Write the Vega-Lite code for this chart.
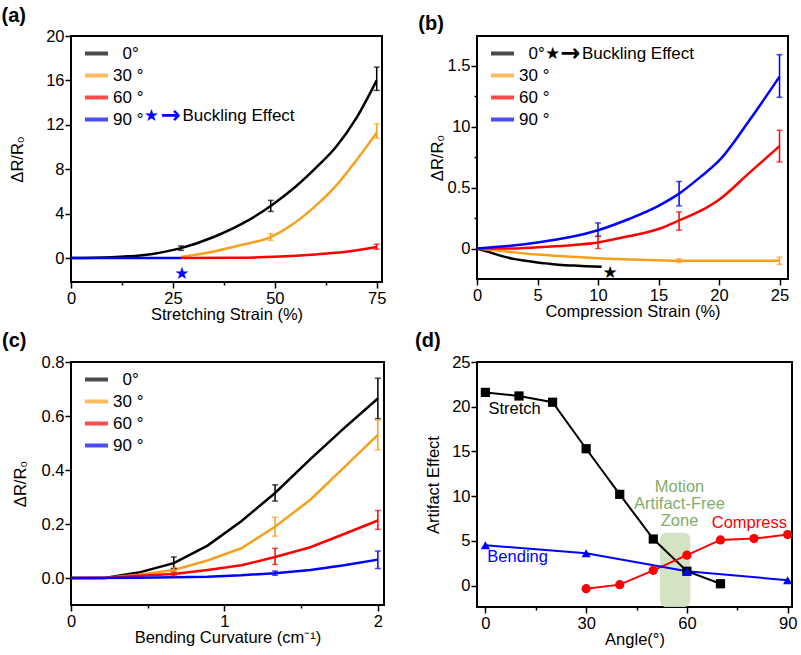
{
  "$schema": "https://vega.github.io/schema/vega-lite/v6.json",
  "padding": {"left": 0, "top": 5, "right": 0, "bottom": 0},
  "background": "white",
  "columns": 2,
  "bounds": "flush",
  "spacing": {"row": 80, "column": 93},
  "resolve": {"scale": {"color": "independent"}, "legend": {"color": "independent"}},
  "config": {
    "font": "Liberation Sans",
    "view": {"stroke": "black", "strokeWidth": 2},
    "axis": {"domain": false, "grid": false, "tickColor": "black", "tickWidth": 1.5, "labelColor": "#000", "labelFontSize": 16.5, "labelFont": "Liberation Sans", "titleFont": "Liberation Sans", "titleFontSize": 16.5, "titleFontWeight": "normal", "titleColor": "#000", "labelFlush": false, "labelOverlap": false, "labelPadding": 1},
    "axisX": {"titlePadding": 0, "labelPadding": 2},
    "title": {"fontSize": 20, "fontWeight": "bold", "anchor": "start", "frame": "group", "color": "#000", "baseline": "alphabetic", "font": "Liberation Sans"},
    "legend": {"padding": 0}
  },
  "datasets": {
    "aL": [
      {"s": "0°", "x": 0, "y": 0}, {"s": "0°", "x": 10, "y": 0.08}, {"s": "0°", "x": 20, "y": 0.38}, {"s": "0°", "x": 27, "y": 0.9}, {"s": "0°", "x": 35, "y": 1.9}, {"s": "0°", "x": 42, "y": 3.1}, {"s": "0°", "x": 49, "y": 4.7}, {"s": "0°", "x": 55, "y": 6.4}, {"s": "0°", "x": 60, "y": 8.1}, {"s": "0°", "x": 65, "y": 10.0}, {"s": "0°", "x": 70, "y": 12.6}, {"s": "0°", "x": 75, "y": 16.0},
      {"s": "30 °", "x": 27, "y": 0.1}, {"s": "30 °", "x": 35, "y": 0.6}, {"s": "30 °", "x": 42, "y": 1.2}, {"s": "30 °", "x": 49, "y": 1.9}, {"s": "30 °", "x": 55, "y": 3.2}, {"s": "30 °", "x": 60, "y": 4.7}, {"s": "30 °", "x": 65, "y": 6.5}, {"s": "30 °", "x": 70, "y": 8.8}, {"s": "30 °", "x": 75, "y": 11.3},
      {"s": "60 °", "x": 27, "y": 0}, {"s": "60 °", "x": 40, "y": 0.03}, {"s": "60 °", "x": 50, "y": 0.12}, {"s": "60 °", "x": 60, "y": 0.33}, {"s": "60 °", "x": 68, "y": 0.6}, {"s": "60 °", "x": 75, "y": 1.0},
      {"s": "90 °", "x": 0, "y": 0}, {"s": "90 °", "x": 27, "y": 0}
    ],
    "aE": [
      {"s": "0°", "x": 27, "lo": 0.7, "hi": 1.1}, {"s": "0°", "x": 49, "lo": 4.2, "hi": 5.2}, {"s": "0°", "x": 75, "lo": 15.1, "hi": 17.2},
      {"s": "30 °", "x": 49, "lo": 1.6, "hi": 2.2}, {"s": "30 °", "x": 75, "lo": 10.8, "hi": 12.1},
      {"s": "60 °", "x": 75, "lo": 0.8, "hi": 1.25}
    ],
    "aStar": [{"x": 19.7, "y": 12.8, "t": "★"}, {"x": 27.2, "y": -1.4, "t": "★"}],
    "aArrow": [{"x": 24.4, "y": 12.8, "t": "→"}],
    "aTk": [{"x": 41.1, "y": 12.8, "t": "Buckling Effect"}],
    "bL": [
      {"s": "0°", "x": 0, "y": 0}, {"s": "0°", "x": 1, "y": -0.03}, {"s": "0°", "x": 2, "y": -0.06}, {"s": "0°", "x": 3, "y": -0.085}, {"s": "0°", "x": 4, "y": -0.1}, {"s": "0°", "x": 5, "y": -0.115}, {"s": "0°", "x": 6, "y": -0.125}, {"s": "0°", "x": 7, "y": -0.135}, {"s": "0°", "x": 8, "y": -0.14}, {"s": "0°", "x": 9, "y": -0.145}, {"s": "0°", "x": 10.3, "y": -0.15},
      {"s": "30 °", "x": 0, "y": 0}, {"s": "30 °", "x": 2.5, "y": -0.025}, {"s": "30 °", "x": 5, "y": -0.05}, {"s": "30 °", "x": 7.5, "y": -0.065}, {"s": "30 °", "x": 10, "y": -0.08}, {"s": "30 °", "x": 13, "y": -0.09}, {"s": "30 °", "x": 16.7, "y": -0.1}, {"s": "30 °", "x": 20, "y": -0.1}, {"s": "30 °", "x": 25, "y": -0.1},
      {"s": "60 °", "x": 0, "y": 0}, {"s": "60 °", "x": 2.5, "y": 0}, {"s": "60 °", "x": 5, "y": 0.01}, {"s": "60 °", "x": 7.5, "y": 0.025}, {"s": "60 °", "x": 10, "y": 0.05}, {"s": "60 °", "x": 12.5, "y": 0.1}, {"s": "60 °", "x": 15, "y": 0.16}, {"s": "60 °", "x": 16.7, "y": 0.23}, {"s": "60 °", "x": 18.5, "y": 0.31}, {"s": "60 °", "x": 20, "y": 0.4}, {"s": "60 °", "x": 22.5, "y": 0.62}, {"s": "60 °", "x": 25, "y": 0.84},
      {"s": "90 °", "x": 0, "y": 0}, {"s": "90 °", "x": 2.5, "y": 0.02}, {"s": "90 °", "x": 5, "y": 0.05}, {"s": "90 °", "x": 7.5, "y": 0.09}, {"s": "90 °", "x": 10, "y": 0.15}, {"s": "90 °", "x": 12.5, "y": 0.24}, {"s": "90 °", "x": 15, "y": 0.35}, {"s": "90 °", "x": 16.7, "y": 0.45}, {"s": "90 °", "x": 18.5, "y": 0.59}, {"s": "90 °", "x": 20, "y": 0.72}, {"s": "90 °", "x": 22.5, "y": 1.05}, {"s": "90 °", "x": 25, "y": 1.41}
    ],
    "bE": [
      {"s": "30 °", "x": 16.7, "lo": -0.115, "hi": -0.085}, {"s": "30 °", "x": 25, "lo": -0.13, "hi": -0.07},
      {"s": "60 °", "x": 10, "lo": 0.0, "hi": 0.1}, {"s": "60 °", "x": 16.7, "lo": 0.15, "hi": 0.3}, {"s": "60 °", "x": 25, "lo": 0.71, "hi": 0.97},
      {"s": "90 °", "x": 10, "lo": 0.1, "hi": 0.21}, {"s": "90 °", "x": 16.7, "lo": 0.35, "hi": 0.55}, {"s": "90 °", "x": 25, "lo": 1.24, "hi": 1.59}
    ],
    "bStar": [{"x": 6.25, "y": 1.595, "t": "★"}, {"x": 11.0, "y": -0.2, "t": "★"}],
    "bArrow": [{"x": 7.7, "y": 1.595, "t": "→"}],
    "bTk": [{"x": 13.3, "y": 1.595, "t": "Buckling Effect"}],
    "cL": [
      {"s": "0°", "x": 0, "y": 0}, {"s": "0°", "x": 0.22, "y": 0.0}, {"s": "0°", "x": 0.44, "y": 0.02}, {"s": "0°", "x": 0.67, "y": 0.055}, {"s": "0°", "x": 0.89, "y": 0.12}, {"s": "0°", "x": 1.11, "y": 0.21}, {"s": "0°", "x": 1.33, "y": 0.315}, {"s": "0°", "x": 1.56, "y": 0.44}, {"s": "0°", "x": 1.78, "y": 0.555}, {"s": "0°", "x": 2.0, "y": 0.665},
      {"s": "30 °", "x": 0, "y": 0}, {"s": "30 °", "x": 0.22, "y": 0.0}, {"s": "30 °", "x": 0.44, "y": 0.012}, {"s": "30 °", "x": 0.67, "y": 0.03}, {"s": "30 °", "x": 0.89, "y": 0.065}, {"s": "30 °", "x": 1.11, "y": 0.11}, {"s": "30 °", "x": 1.33, "y": 0.19}, {"s": "30 °", "x": 1.56, "y": 0.29}, {"s": "30 °", "x": 1.78, "y": 0.41}, {"s": "30 °", "x": 2.0, "y": 0.53},
      {"s": "60 °", "x": 0, "y": 0}, {"s": "60 °", "x": 0.22, "y": 0.0}, {"s": "60 °", "x": 0.44, "y": 0.008}, {"s": "60 °", "x": 0.67, "y": 0.015}, {"s": "60 °", "x": 0.89, "y": 0.03}, {"s": "60 °", "x": 1.11, "y": 0.047}, {"s": "60 °", "x": 1.33, "y": 0.078}, {"s": "60 °", "x": 1.56, "y": 0.114}, {"s": "60 °", "x": 1.78, "y": 0.163}, {"s": "60 °", "x": 2.0, "y": 0.213},
      {"s": "90 °", "x": 0, "y": 0}, {"s": "90 °", "x": 0.44, "y": 0.001}, {"s": "90 °", "x": 0.67, "y": 0.003}, {"s": "90 °", "x": 0.89, "y": 0.005}, {"s": "90 °", "x": 1.11, "y": 0.01}, {"s": "90 °", "x": 1.33, "y": 0.018}, {"s": "90 °", "x": 1.56, "y": 0.03}, {"s": "90 °", "x": 1.78, "y": 0.047}, {"s": "90 °", "x": 2.0, "y": 0.068}
    ],
    "cE": [
      {"s": "0°", "x": 0.67, "lo": 0.035, "hi": 0.078}, {"s": "0°", "x": 1.33, "lo": 0.285, "hi": 0.345}, {"s": "0°", "x": 2.0, "lo": 0.59, "hi": 0.74},
      {"s": "30 °", "x": 0.67, "lo": 0.02, "hi": 0.04}, {"s": "30 °", "x": 1.33, "lo": 0.155, "hi": 0.225}, {"s": "30 °", "x": 2.0, "lo": 0.475, "hi": 0.585},
      {"s": "60 °", "x": 0.67, "lo": 0.008, "hi": 0.022}, {"s": "60 °", "x": 1.33, "lo": 0.05, "hi": 0.11}, {"s": "60 °", "x": 2.0, "lo": 0.18, "hi": 0.25},
      {"s": "90 °", "x": 1.33, "lo": 0.01, "hi": 0.026}, {"s": "90 °", "x": 2.0, "lo": 0.035, "hi": 0.1}
    ],
    "dZ": [{"x1": 52, "x2": 61, "y1": -2.4, "y2": 5.9}],
    "dL": [
      {"s": "Stretch", "x": 0, "y": 21.6}, {"s": "Stretch", "x": 10, "y": 21.2}, {"s": "Stretch", "x": 20, "y": 20.5}, {"s": "Stretch", "x": 30, "y": 15.3}, {"s": "Stretch", "x": 40, "y": 10.2}, {"s": "Stretch", "x": 50, "y": 5.2}, {"s": "Stretch", "x": 60, "y": 1.6}, {"s": "Stretch", "x": 70, "y": 0.2},
      {"s": "Compress", "x": 30, "y": -0.35}, {"s": "Compress", "x": 40, "y": 0.1}, {"s": "Compress", "x": 50, "y": 1.7}, {"s": "Compress", "x": 60, "y": 3.4}, {"s": "Compress", "x": 70, "y": 5.1}, {"s": "Compress", "x": 80, "y": 5.25}, {"s": "Compress", "x": 90, "y": 5.7},
      {"s": "Bending", "x": 0, "y": 4.5}, {"s": "Bending", "x": 30, "y": 3.6}, {"s": "Bending", "x": 60, "y": 1.6}, {"s": "Bending", "x": 90, "y": 0.6}
    ],
    "dT": [
      {"s": "Stretch", "x": 8.7, "y": 19.7, "t": "Stretch"},
      {"s": "Bending", "x": 9.6, "y": 3.2, "t": "Bending"},
      {"s": "Compress", "x": 78.6, "y": 7.0, "t": "Compress"},
      {"s": "Zone", "x": 57.8, "y": 11.0, "t": "Motion"},
      {"s": "Zone", "x": 57.8, "y": 9.1, "t": "Artifact-Free"},
      {"s": "Zone", "x": 57.8, "y": 7.2, "t": "Zone"}
    ]
  },
  "concat": [
    {
      "width": 311, "height": 246,
      "title": {"text": "(a)", "dx": -69.5, "offset": 2},
      "layer": [
        {
          "data": {"name": "aL"},
          "mark": {"type": "line", "interpolate": "monotone", "strokeWidth": 2.5},
          "encoding": {
            "x": {"field": "x", "type": "quantitative", "title": "Stretching Strain (%)", "scale": {"domain": [0, 76.3], "nice": false, "zero": false},
              "axis": {"values": [0, 12.5, 25, 37.5, 50, 62.5, 75], "labelExpr": "datum.value % 25 == 0 ? format(datum.value, 'd') : ''", "tickSize": {"condition": {"test": "datum.value % 25 != 0", "value": 3}, "value": 6}}},
            "y": {"field": "y", "type": "quantitative", "title": "ΔR/R₀", "scale": {"domain": [-2.15, 20], "nice": false, "zero": false},
              "axis": {"values": [0, 2, 4, 6, 8, 10, 12, 14, 16, 18, 20], "labelExpr": "datum.value % 4 == 0 ? format(datum.value, 'd') : ''", "tickSize": {"condition": {"test": "datum.value % 4 != 0", "value": 3}, "value": 6}, "titlePadding": 20}},
            "color": {"field": "s", "type": "nominal", "scale": {"domain": ["0°", "30 °", "60 °", "90 °"], "range": ["#000000", "#f7a01e", "#ff0000", "#0000ff"]},
              "legend": {"orient": "none", "legendX": 12, "legendY": 4, "title": null, "symbolType": "stroke", "symbolStrokeWidth": 4, "symbolSize": 529, "labelFontSize": 17, "labelOffset": 3, "rowPadding": -2, "labelColor": "#000", "labelExpr": "datum.label == '0°' ? '\u200b\u00a0\u00a00°' : datum.label"}}
          }
        },
        {
          "data": {"name": "aE"},
          "mark": {"type": "errorbar", "thickness": 1.5, "ticks": {"size": 6, "thickness": 1.5}},
          "encoding": {
            "x": {"field": "x", "type": "quantitative", "title": "Stretching Strain (%)"},
            "y": {"field": "lo", "type": "quantitative", "title": "ΔR/R₀"},
            "y2": {"field": "hi"},
            "color": {"field": "s", "type": "nominal",
              "legend": {"orient": "none", "legendX": 12, "legendY": 4, "title": null, "symbolType": "stroke", "symbolStrokeWidth": 4, "symbolSize": 529, "labelFontSize": 17, "labelOffset": 3, "rowPadding": -2, "labelColor": "#000", "labelExpr": "datum.label == '0°' ? '\u200b\u00a0\u00a00°' : datum.label"}}
          }
        },
        {
          "data": {"name": "aStar"},
          "mark": {"type": "text", "color": "#0000ff", "fontSize": 17, "font": "DejaVu Sans", "align": "center", "baseline": "middle"},
          "encoding": {
            "x": {"field": "x", "type": "quantitative", "title": "Stretching Strain (%)"},
            "y": {"field": "y", "type": "quantitative", "title": "ΔR/R₀"},
            "text": {"field": "t"}
          }
        },
        {
          "data": {"name": "aArrow"},
          "mark": {"type": "text", "color": "#0000ff", "fontSize": 24, "fontWeight": "bold", "font": "DejaVu Sans", "align": "center", "baseline": "middle"},
          "encoding": {
            "x": {"field": "x", "type": "quantitative", "title": "Stretching Strain (%)"},
            "y": {"field": "y", "type": "quantitative", "title": "ΔR/R₀"},
            "text": {"field": "t"}
          }
        },
        {
          "data": {"name": "aTk"},
          "mark": {"type": "text", "color": "#000", "fontSize": 17, "align": "center", "baseline": "middle"},
          "encoding": {
            "x": {"field": "x", "type": "quantitative", "title": "Stretching Strain (%)"},
            "y": {"field": "y", "type": "quantitative", "title": "ΔR/R₀"},
            "text": {"field": "t"}
          }
        }
      ]
    },
    {
      "width": 311, "height": 243,
      "title": {"text": "(b)", "dx": -58.7, "offset": 2},
      "layer": [
        {
          "data": {"name": "bL"},
          "mark": {"type": "line", "interpolate": "monotone", "strokeWidth": 2.5},
          "encoding": {
            "x": {"field": "x", "type": "quantitative", "title": "Compression Strain (%)", "scale": {"domain": [0, 25.7], "nice": false, "zero": false},
              "axis": {"values": [0, 2.5, 5, 7.5, 10, 12.5, 15, 17.5, 20, 22.5, 25], "labelExpr": "datum.value % 5 == 0 ? format(datum.value, 'd') : ''", "tickSize": {"condition": {"test": "datum.value % 5 != 0", "value": 3}, "value": 6}}},
            "y": {"field": "y", "type": "quantitative", "title": "ΔR/R₀", "scale": {"domain": [-0.25, 1.743], "nice": false, "zero": false},
              "axis": {"values": [0, 0.25, 0.5, 0.75, 1, 1.25, 1.5], "labelExpr": "datum.value % 0.5 != 0 ? '' : datum.value == 1 ? '10' : datum.value == 0 ? '0' : format(datum.value, '.1f')", "tickSize": {"condition": {"test": "datum.value % 0.5 != 0", "value": 3}, "value": 6}, "titlePadding": 2}},
            "color": {"field": "s", "type": "nominal", "scale": {"domain": ["0°", "30 °", "60 °", "90 °"], "range": ["#000000", "#f7a01e", "#ff0000", "#0000ff"]},
              "legend": {"orient": "none", "legendX": 12, "legendY": 4, "title": null, "symbolType": "stroke", "symbolStrokeWidth": 4, "symbolSize": 529, "labelFontSize": 17, "labelOffset": 3, "rowPadding": -2, "labelColor": "#000", "labelExpr": "datum.label == '0°' ? '\u200b\u00a0\u00a00°' : datum.label"}}
          }
        },
        {
          "data": {"name": "bE"},
          "mark": {"type": "errorbar", "thickness": 1.5, "ticks": {"size": 6, "thickness": 1.5}},
          "encoding": {
            "x": {"field": "x", "type": "quantitative", "title": "Compression Strain (%)"},
            "y": {"field": "lo", "type": "quantitative", "title": "ΔR/R₀"},
            "y2": {"field": "hi"},
            "color": {"field": "s", "type": "nominal",
              "legend": {"orient": "none", "legendX": 12, "legendY": 4, "title": null, "symbolType": "stroke", "symbolStrokeWidth": 4, "symbolSize": 529, "labelFontSize": 17, "labelOffset": 3, "rowPadding": -2, "labelColor": "#000", "labelExpr": "datum.label == '0°' ? '\u200b\u00a0\u00a00°' : datum.label"}}
          }
        },
        {
          "data": {"name": "bStar"},
          "mark": {"type": "text", "color": "#000", "fontSize": 17, "font": "DejaVu Sans", "align": "center", "baseline": "middle"},
          "encoding": {
            "x": {"field": "x", "type": "quantitative", "title": "Compression Strain (%)"},
            "y": {"field": "y", "type": "quantitative", "title": "ΔR/R₀"},
            "text": {"field": "t"}
          }
        },
        {
          "data": {"name": "bArrow"},
          "mark": {"type": "text", "color": "#000", "fontSize": 24, "fontWeight": "bold", "font": "DejaVu Sans", "align": "center", "baseline": "middle"},
          "encoding": {
            "x": {"field": "x", "type": "quantitative", "title": "Compression Strain (%)"},
            "y": {"field": "y", "type": "quantitative", "title": "ΔR/R₀"},
            "text": {"field": "t"}
          }
        },
        {
          "data": {"name": "bTk"},
          "mark": {"type": "text", "color": "#000", "fontSize": 17, "align": "center", "baseline": "middle"},
          "encoding": {
            "x": {"field": "x", "type": "quantitative", "title": "Compression Strain (%)"},
            "y": {"field": "y", "type": "quantitative", "title": "ΔR/R₀"},
            "text": {"field": "t"}
          }
        }
      ]
    },
    {
      "width": 313, "height": 243,
      "title": {"text": "(c)", "dx": -69, "offset": 3},
      "layer": [
        {
          "data": {"name": "cL"},
          "mark": {"type": "line", "strokeWidth": 2.5},
          "encoding": {
            "x": {"field": "x", "type": "quantitative", "title": "Bending Curvature (cm⁻¹)", "scale": {"domain": [0, 2.04], "nice": false, "zero": false},
              "axis": {"values": [0, 0.5, 1, 1.5, 2], "labelExpr": "datum.value % 1 == 0 ? format(datum.value, 'd') : ''", "tickSize": {"condition": {"test": "datum.value % 1 != 0", "value": 3}, "value": 6}}},
            "y": {"field": "y", "type": "quantitative", "title": "ΔR/R₀", "scale": {"domain": [-0.1, 0.8], "nice": false, "zero": false},
              "axis": {"values": [0, 0.1, 0.2, 0.3, 0.4, 0.5, 0.6, 0.7, 0.8], "labelExpr": "round(datum.value * 10) % 2 != 0 ? '' : format(datum.value, '.1f')", "tickSize": {"condition": {"test": "round(datum.value * 10) % 2 != 0", "value": 3}, "value": 6}, "titlePadding": 13}},
            "color": {"field": "s", "type": "nominal", "scale": {"domain": ["0°", "30 °", "60 °", "90 °"], "range": ["#000000", "#f7a01e", "#ff0000", "#0000ff"]},
              "legend": {"orient": "none", "legendX": 12, "legendY": 4, "title": null, "symbolType": "stroke", "symbolStrokeWidth": 4, "symbolSize": 529, "labelFontSize": 17, "labelOffset": 3, "rowPadding": -2, "labelColor": "#000", "labelExpr": "datum.label == '0°' ? '\u200b\u00a0\u00a00°' : datum.label"}}
          }
        },
        {
          "data": {"name": "cE"},
          "mark": {"type": "errorbar", "thickness": 1.5, "ticks": {"size": 6, "thickness": 1.5}},
          "encoding": {
            "x": {"field": "x", "type": "quantitative", "title": "Bending Curvature (cm⁻¹)"},
            "y": {"field": "lo", "type": "quantitative", "title": "ΔR/R₀"},
            "y2": {"field": "hi"},
            "color": {"field": "s", "type": "nominal",
              "legend": {"orient": "none", "legendX": 12, "legendY": 4, "title": null, "symbolType": "stroke", "symbolStrokeWidth": 4, "symbolSize": 529, "labelFontSize": 17, "labelOffset": 3, "rowPadding": -2, "labelColor": "#000", "labelExpr": "datum.label == '0°' ? '\u200b\u00a0\u00a00°' : datum.label"}}
          }
        }
      ]
    },
    {
      "width": 315, "height": 245,
      "title": {"text": "(d)", "dx": -62, "offset": 3},
      "layer": [
        {
          "data": {"name": "dZ"},
          "mark": {"type": "rect", "color": "#cfe0bd", "opacity": 0.9, "cornerRadius": 6},
          "encoding": {
            "x": {"field": "x1", "type": "quantitative", "title": "Angle(°)", "scale": {"domain": [-2.5, 91.3], "nice": false, "zero": false},
              "axis": {"values": [0, 15, 30, 45, 60, 75, 90], "labelExpr": "datum.value % 30 == 0 ? format(datum.value, 'd') : ''", "tickSize": {"condition": {"test": "datum.value % 30 != 0", "value": 3}, "value": 6}}},
            "x2": {"field": "x2"},
            "y": {"field": "y1", "type": "quantitative", "title": "Artifact Effect", "scale": {"domain": [-2.4, 25], "nice": false, "zero": false},
              "axis": {"values": [0, 2.5, 5, 7.5, 10, 12.5, 15, 17.5, 20, 22.5, 25], "labelExpr": "datum.value % 5 == 0 ? format(datum.value, 'd') : ''", "tickSize": {"condition": {"test": "datum.value % 5 != 0", "value": 3}, "value": 6}, "titlePadding": 10}},
            "y2": {"field": "y2"}
          }
        },
        {
          "data": {"name": "dL"},
          "mark": {"type": "line", "strokeWidth": 2},
          "encoding": {
            "x": {"field": "x", "type": "quantitative", "title": "Angle(°)"},
            "y": {"field": "y", "type": "quantitative", "title": "Artifact Effect"},
            "color": {"field": "s", "type": "nominal", "scale": {"domain": ["Stretch", "Compress", "Bending", "Zone"], "range": ["#000000", "#ff0000", "#0000ff", "#82ad68"]}, "legend": null}
          }
        },
        {
          "data": {"name": "dL"},
          "mark": {"type": "point", "filled": true, "size": 85, "opacity": 1},
          "encoding": {
            "x": {"field": "x", "type": "quantitative", "title": "Angle(°)"},
            "y": {"field": "y", "type": "quantitative", "title": "Artifact Effect"},
            "color": {"field": "s", "type": "nominal", "legend": null},
            "shape": {"field": "s", "type": "nominal", "scale": {"domain": ["Stretch", "Compress", "Bending"], "range": ["square", "circle", "triangle-up"]}, "legend": null}
          }
        },
        {
          "data": {"name": "dT"},
          "mark": {"type": "text", "fontSize": 16.5, "align": "center", "baseline": "middle"},
          "encoding": {
            "x": {"field": "x", "type": "quantitative", "title": "Angle(°)"},
            "y": {"field": "y", "type": "quantitative", "title": "Artifact Effect"},
            "color": {"field": "s", "type": "nominal", "legend": null},
            "text": {"field": "t"}
          }
        }
      ]
    }
  ]
}
